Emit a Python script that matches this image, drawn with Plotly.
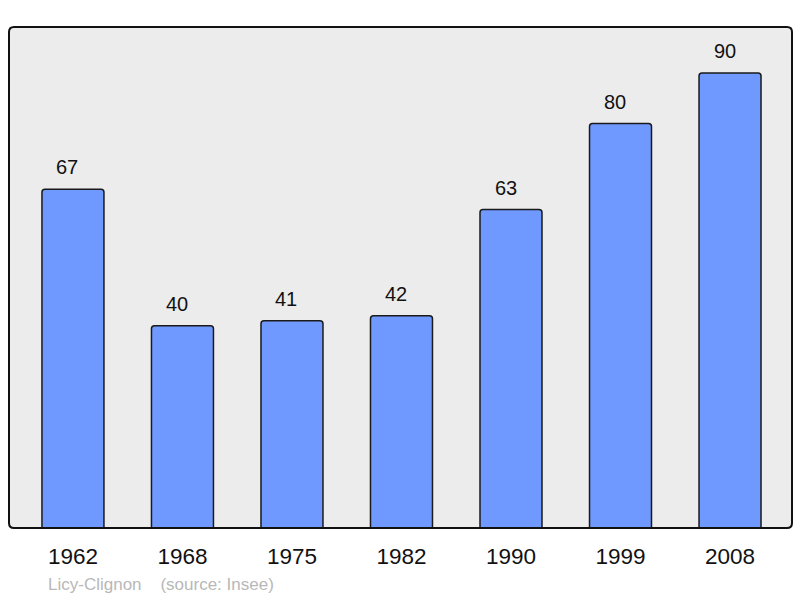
import plotly.graph_objects as go

years = ["1962", "1968", "1975", "1982", "1990", "1999", "2008"]
population = [67, 40, 41, 42, 63, 80, 90]
source_text = "Licy-Clignon    (source: Insee)"

xs = list(range(len(years)))

fig = go.Figure()
fig.add_trace(go.Bar(
    x=xs, y=population, width=0.566,
    marker=dict(color="#7099ff", line=dict(color="#1a1a1a", width=1.5)),
    hoverinfo="skip",
))

for x, v in zip(xs, population):
    fig.add_annotation(x=x, y=v, text=str(v), showarrow=False, yshift=22, xshift=-5.5,
                       font=dict(family="Liberation Sans, Arial", size=20, color="#111111"))

fig.add_annotation(xref="paper", yref="paper", x=0.047, y=-0.112, xanchor="left", yanchor="middle",
                   text=source_text.replace(" ", "&nbsp;"), showarrow=False,
                   font=dict(family="Liberation Sans, Arial", size=17, color="#b8b8b8"))

# rounded border
r_x = 5/783
r_y = 5/501
path = (f"M {r_x},0 L {1-r_x},0 Q 1,0 1,{r_y} L 1,{1-r_y} Q 1,1 {1-r_x},1 "
        f"L {r_x},1 Q 0,1 0,{1-r_y} L 0,{r_y} Q 0,0 {r_x},0 Z")
fig.add_shape(type="path", xref="paper", yref="paper", path=path,
              line=dict(color="#111111", width=2), layer="above")

fig.update_layout(
    width=800, height=598,
    margin=dict(l=9, r=8, t=27, b=70),
    paper_bgcolor="white", plot_bgcolor="#ececec",
    barcornerradius=3,
    showlegend=False,
    xaxis=dict(range=[-0.584, 6.566], tickvals=xs, ticktext=years, showgrid=False,
               zeroline=False, ticks="", ticklabelstandoff=12,
               tickfont=dict(family="Liberation Sans, Arial", size=22.5, color="#111111")),
    yaxis=dict(range=[0, 99.1], showgrid=False, zeroline=False, showticklabels=False, ticks=""),
)

fig.write_html("out.html", config={"displayModeBar": False},
               post_script="document.body.style.margin='0';document.body.style.overflow='hidden';")
